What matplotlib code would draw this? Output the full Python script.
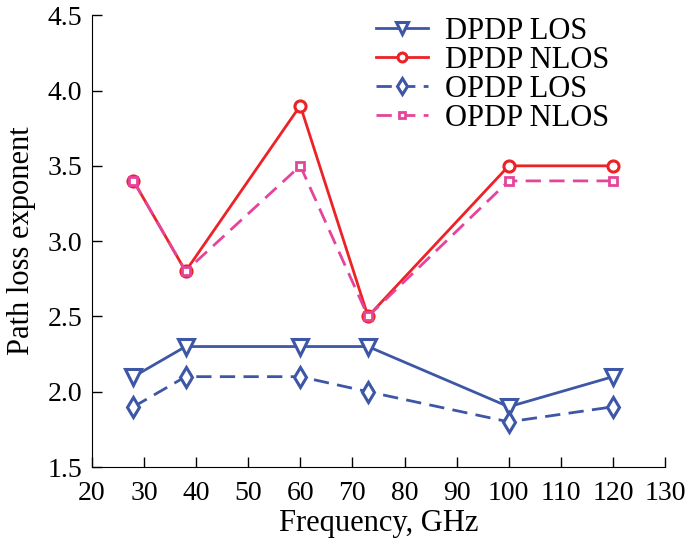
import matplotlib
matplotlib.use("Agg")
import matplotlib.pyplot as plt

freq = [28, 38, 60, 73, 100, 120]
dpdp_los = [2.1, 2.3, 2.3, 2.3, 1.9, 2.1]
dpdp_nlos = [3.4, 2.8, 3.9, 2.5, 3.5, 3.5]
opdp_los = [1.9, 2.1, 2.1, 2.0, 1.8, 1.9]
opdp_nlos = [3.4, 2.8, 3.5, 2.5, 3.4, 3.4]

blue = "#3d56a6"
red = "#ec2227"
pink = "#e6449a"

plt.rcParams["font.family"] = ["Liberation Serif", "DejaVu Serif"]
plt.rcParams["font.size"] = 22

fig, ax = plt.subplots(figsize=(6.85, 5.44), dpi=100)

dash = (0, (5.5, 3))
ax.plot(freq, dpdp_los, color=blue, lw=2, marker="v", ms=11,
        mfc="white", mew=2.2, label="DPDP LOS")
ax.plot(freq, dpdp_nlos, color=red, lw=2, marker="o", ms=8,
        mfc="white", mew=2.2, label="DPDP NLOS")
ax.plot(freq, opdp_los, color=blue, lw=2, ls=dash, marker="d",
        ms=10, mfc="white", mew=2.2, label="OPDP LOS")
ax.plot(freq, opdp_nlos, color=pink, lw=2, ls=dash, marker="s",
        ms=6, mfc="white", mew=2, label="OPDP NLOS")

ax.set_xlim(20, 130)
ax.set_ylim(1.5, 4.5)
ax.set_xticks(range(20, 131, 10))
ax.set_yticks([1.5, 2.0, 2.5, 3.0, 3.5, 4.0, 4.5])
ax.set_yticklabels(["1.5", "2.0", "2.5", "3.0", "3.5", "4.0", "4.5"])
ax.tick_params(direction="in", length=7, width=1, labelsize=20)
ax.tick_params(axis="x", pad=10)
ax.tick_params(axis="y", pad=7)
ax.spines["top"].set_visible(False)
ax.spines["right"].set_visible(False)

ax.set_xlabel("Frequency, GHz", labelpad=2)
ax.set_ylabel("Path loss exponent", labelpad=8)

ax.legend(loc="upper right", frameon=False, handlelength=1.7,
          handletextpad=0.55, labelspacing=0.0, markerscale=0.8,
          bbox_to_anchor=(0.95, 1.058))

fig.subplots_adjust(left=0.134, right=0.971, top=0.972, bottom=0.1415)
fig.savefig("out.png")
